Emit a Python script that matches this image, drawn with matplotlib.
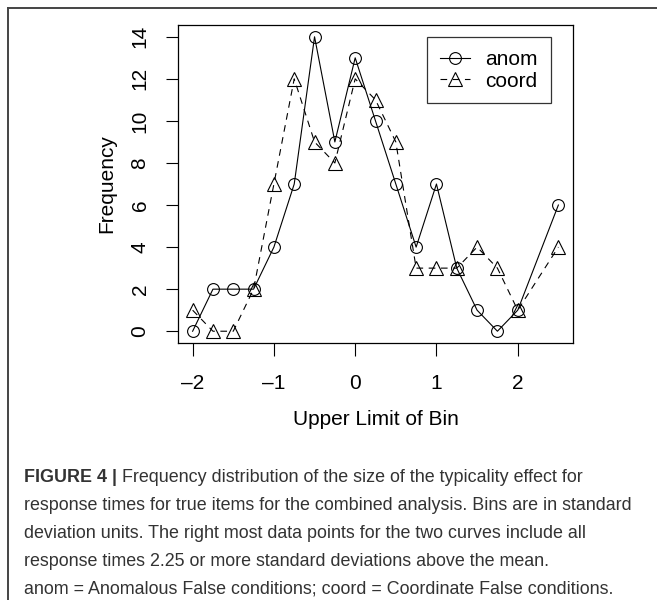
import matplotlib
matplotlib.use("Agg")
import matplotlib.pyplot as plt
from matplotlib.lines import Line2D

# upper limit of each bin (sd units); last point covers 2.25 and above
bins = [-2, -1.75, -1.5, -1.25, -1, -0.75, -0.5, -0.25, 0, 0.25, 0.5,
        0.75, 1, 1.25, 1.5, 1.75, 2, 2.5]
anom = [0, 2, 2, 2, 4, 7, 14, 9, 13, 10, 7, 4, 7, 3, 1, 0, 1, 6]
coord = [1, 0, 0, 2, 7, 12, 9, 8, 12, 11, 9, 3, 3, 3, 4, 3, 1, 4]

xticks = [-2, -1, 0, 1, 2]
yticks = [0, 2, 4, 6, 8, 10, 12, 14]

caption_head = "FIGURE 4 |"
caption_lines = [
    " Frequency distribution of the size of the typicality effect for",
    "response times for true items for the combined analysis. Bins are in standard",
    "deviation units. The right most data points for the two curves include all",
    "response times 2.25 or more standard deviations above the mean.",
    "anom = Anomalous False conditions; coord = Coordinate False conditions.",
]

plt.rcParams['font.family'] = ['Liberation Sans', 'DejaVu Sans']

W, H = 657, 600
fig = plt.figure(figsize=(W / 100, H / 100), dpi=100)
ax = fig.add_axes([178 / W, 1 - 343 / H, (573 - 178) / W, (343 - 25) / H])

ax.plot(bins, anom, color='black', lw=0.8, marker='o', ms=8.5,
        mfc='none', mec='black', mew=0.8, label='anom')
ax.plot(bins, coord, color='black', lw=0.8, ls=(0, (6, 5)), marker='^', ms=9.5,
        mfc='none', mec='black', mew=0.8, label='coord')

ax.set_xlim(-2.18, 2.68)
ax.set_ylim(-0.56, 14.56)
ax.set_xticks(xticks)
ax.set_xticklabels([('\u2013' + str(-t)) if t < 0 else str(t) for t in xticks])
ax.set_yticks(yticks)
ax.set_yticklabels([str(t) for t in yticks], rotation=90, va='center')
ax.tick_params(direction='out', length=9, width=0.8, labelsize=15)
ax.tick_params(axis='x', pad=13.5)
ax.tick_params(axis='y', pad=11.5)
for s in ax.spines.values():
    s.set_linewidth(0.9)

ax.set_xlabel('Upper Limit of Bin', fontsize=15, labelpad=12)
ax.set_ylabel('Frequency', fontsize=15, labelpad=10.5)

leg = ax.legend(loc='upper right', bbox_to_anchor=(0.944, 0.962), borderaxespad=0,
                fontsize=15, frameon=True, fancybox=False, edgecolor='black',
                handlelength=1.45, handletextpad=0.75, labelspacing=0.12,
                borderpad=0.62)
leg.get_frame().set_linewidth(0.9)

# page frame (left and top edges)
fig.add_artist(Line2D([8 / W, 8 / W], [0, 1 - 8 / H], color='#444444', lw=1.4))
fig.add_artist(Line2D([8 / W, 1], [1 - 8 / H, 1 - 8 / H], color='#444444', lw=1.4))

# caption
cap_color = '#333333'
cap_size = 12.9
x0 = 24 / W
y0 = 477
step = 28
renderer = fig.canvas.get_renderer()
head = fig.text(x0, 1 - y0 / H, caption_head, fontsize=cap_size, fontweight='bold',
                color=cap_color, va='center', ha='left')
bb = head.get_window_extent(renderer)
fig.text(bb.x1 / W, 1 - y0 / H, caption_lines[0], fontsize=cap_size,
         color=cap_color, va='center', ha='left')
for i, line in enumerate(caption_lines[1:], start=1):
    fig.text(x0, 1 - (y0 + i * step) / H, line, fontsize=cap_size,
             color=cap_color, va='center', ha='left')

fig.savefig('out.png', dpi=100)
